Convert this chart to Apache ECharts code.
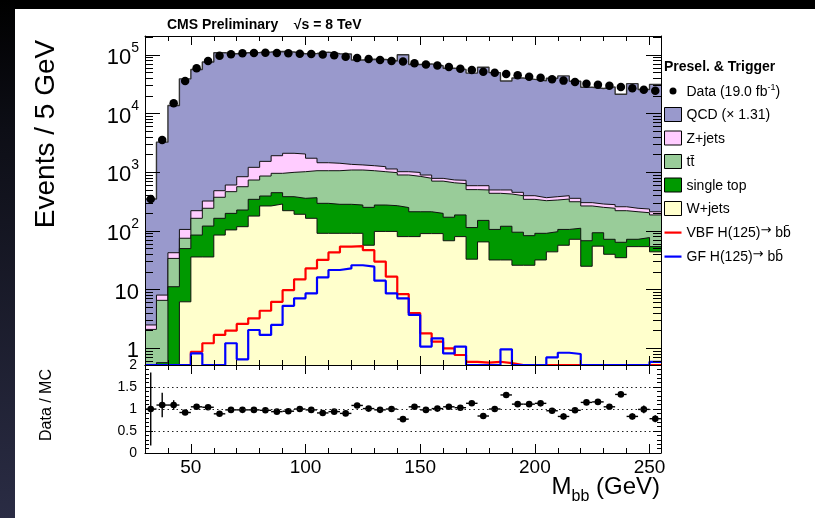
<!DOCTYPE html>
<html>
<head>
<meta charset="utf-8">
<script src="https://cdn.jsdelivr.net/npm/echarts@6/dist/echarts.min.js"></script>
<style>
  html, body { margin: 0; padding: 0; background: #fff; }
  #wrap { position: relative; width: 815px; height: 518px; overflow: hidden; background: #fff; }
  #topband { position: absolute; left: 0; top: 0; width: 815px; height: 9px; background: #000; }
  #sideband { position: absolute; left: 0; top: 0; width: 15px; height: 518px;
              background: linear-gradient(#000 0%, #0d0e16 25%, #2a2c44 100%); }
  #chart { position: absolute; left: 0; top: 0; width: 815px; height: 518px; }
</style>
</head>
<body>
<div id="wrap">
  <div id="topband"></div>
  <div id="sideband"></div>
  <div id="chart"></div>
</div>
<script>
// M_bb histogram, 5 GeV bins: lower bin edges
const lowEdge = [30,35,40,45,50,55,60,65,70,75,80,85,90,95,100,105,110,115,120,125,130,135,140,145,150,
                 155,160,165,170,175,180,185,190,195,200,205,210,215,220,225,230,235,240,245,250];
const BIN_WIDTH = 5;

// Observed events per bin
const dataEvents = [350,3540,14900,35800,58900,78400,96600,102000,106000,107000,108000,107000,106000,104000,103000,
                    101000,98000,93000,88100,84700,81500,78400,77000,71700,68500,65500,62000,58000,55100,51600,
                    49600,47100,44700,42400,40700,38200,36300,34400,32200,31000,29800,28300,26800,25400,24400];

// Background processes (events per bin)
const qcd = [348,3240,13630,38800,55900,75100,108000,103500,107300,108000,109800,111900,109500,102000,103400,
             109500,102800,102000,80200,82600,81900,77300,99000,67300,69000,64100,58300,55600,48200,60800,
             49100,35200,39800,37800,35700,39400,43300,35100,27700,26400,28100,21000,32000,25400,31100];
const zjets = [0.4,1.5,8.5,31,57,80,110,139,272,474,669,953,1105,1020,670,390,360,270,240,230,220,153,123,140,
               108,80,77,89,84,91,61,73,56,53,41,47,49,45,37,35,37,37,31,32,25];
const ttbar = [2.1,6.0,22.8,25,79,122,210,267,339,391,468,509,612,661,692,765,776,806,814,808,744,713,647,638,
               575,506,489,451,391,347,331,305,303,262,236,239,243,203,198,159,171,157,140,127,133];
const singleTop = [0,0.57,11.2,43.8,49,85,79,95,109,166,127,161,162,167,204,204,193,193,185,195,178,171,170,132,
                   122,109,103,107,81,86,74,88,69,57,59,53,49,39,43,38,32,29,18,23,10];
const wjets = [0,0,0,6.2,36,36,85,104,118,179,266,287,221,192,164,91,91,91,91,57,98,98,80,80,90,90,68,80,33,65,
               32,32,26,26,32,44,57,72,25,55,40,35,54,54,44];

// Higgs signal templates
const vbfHiggs = [0,0,0,0,0.875,1.22,1.69,2.0,2.6,3.24,4.37,6.2,9.8,15,23,32,43,54,55,47,30,16.6,8.4,4.0,1.8,1.3,
                  1.0,0.77,0.59,0.57,0.59,0.56,0,0,0,0,0,0,0,0,0,0,0,0,0];
const gfHiggs = [0,0,0,0,0.82,0,0,1.22,0.65,2.05,1.69,2.5,5.3,7.1,8.6,16.2,21.6,23,26,24.6,14.2,8.6,7.1,3.7,1.07,
                 1.48,0.82,1.07,0,0,0,0.96,0,0,0,0.70,0.84,0.80,0,0,0,0,0,0,0.59];

// Uncertainty on Data / MC
const ratioErr = [0.83,0.28,0.11,0.05,0.04,0.03,0.03,0.03,0.03,0.03,0.03,0.03,0.03,0.03,0.03,0.03,0.03,0.03,0.03,
                  0.03,0.03,0.03,0.04,0.03,0.03,0.03,0.03,0.03,0.03,0.05,0.04,0.05,0.04,0.04,0.04,0.06,0.07,0.04,
                  0.05,0.05,0.05,0.06,0.07,0.09,0.08];

// Axis tick values
const xMajorTicks = [50,100,150,200,250];
const yDecades = [0,1,2,3,4,5];
const ratioTicks = [0,0.5,1,1.5,2];

const FONT = '"Liberation Sans", Arial, Helvetica, sans-serif';
const X_MIN = 30, X_MAX = 255;
const LOG_MIN = -0.284, LOG_MAX = 5.32;

const COL = { qcd:'#9999cc', zjets:'#ffccff', ttbar:'#99cc99', stop:'#009900', wjets:'#ffffcc', vbf:'#ff0000', gf:'#0000ff' };

const lg = v => (v > 0 ? Math.max(Math.log10(v), LOG_MIN) : LOG_MIN);
const centers = lowEdge.map(e => e + BIN_WIDTH / 2);

function stepPoints(vals) {
  const pts = lowEdge.map((e, i) => [e, lg(vals[i])]);
  pts.push([lowEdge[lowEdge.length - 1] + BIN_WIDTH, lg(vals[vals.length - 1])]);
  return pts;
}

// cumulative stack, bottom to top
const layerOrder = [wjets, singleTop, ttbar, zjets, qcd];
const cumulative = [];
let running = lowEdge.map(() => 0);
layerOrder.forEach(arr => { running = running.map((v, i) => v + arr[i]); cumulative.push(running); });
const mcTotal = cumulative[cumulative.length - 1];
const ratio = dataEvents.map((d, i) => d / mcTotal[i]);

// minor tick positions on the log axis
const yMinorLog = [];
for (let d = -1; d <= 5; d++) {
  for (let k = 2; k <= 9; k++) {
    const v = Math.log10(k) + d;
    if (v > LOG_MIN && v < LOG_MAX) yMinorLog.push(v);
  }
}

function xAxisSet(grid, pos, withLabels) {
  const minor = {
    type: 'value', gridIndex: grid, position: pos, min: X_MIN, max: X_MAX, interval: 10, z: 50,
    axisLine: { show: true, onZero: false, lineStyle: { color: '#000', width: 1 } },
    axisTick: { show: true, inside: true, length: 5, lineStyle: { color: '#000', width: 1 } },
    axisLabel: { show: false }, splitLine: { show: false }
  };
  const major = {
    type: 'value', gridIndex: grid, position: pos, min: X_MIN, max: X_MAX, z: 50,
    axisLine: { show: false, onZero: false },
    axisTick: { show: true, inside: true, length: 9, customValues: xMajorTicks, lineStyle: { color: '#000', width: 1 } },
    axisLabel: withLabels
      ? { show: true, customValues: xMajorTicks, fontSize: 19, fontFamily: FONT, color: '#000', margin: 5 }
      : { show: false },
    splitLine: { show: false }
  };
  return [minor, major];
}

function yLogAxisSet(pos, withLabels) {
  const major = {
    type: 'value', gridIndex: 0, position: pos, min: LOG_MIN, max: LOG_MAX, z: 50,
    axisLine: { show: true, onZero: false, lineStyle: { color: '#000', width: 1 } },
    axisTick: { show: true, inside: true, length: 15, customValues: yDecades, lineStyle: { color: '#000', width: 1 } },
    axisLabel: withLabels ? {
      show: true, customValues: yDecades, margin: 6,
      formatter: v => {
        const n = Math.round(v);
        if (n === 0) return '{b|1}';
        if (n === 1) return '{b|10}';
        return '{b|10}{s|' + n + '}';
      },
      rich: {
        b: { fontSize: 22, fontFamily: FONT, color: '#000', verticalAlign: 'bottom', lineHeight: 28 },
        s: { fontSize: 14, fontFamily: FONT, color: '#000', verticalAlign: 'top' }
      }
    } : { show: false },
    splitLine: { show: false }
  };
  const minor = {
    type: 'value', gridIndex: 0, position: pos, min: LOG_MIN, max: LOG_MAX, z: 50,
    axisLine: { show: false, onZero: false },
    axisTick: { show: true, inside: true, length: 8, customValues: yMinorLog, lineStyle: { color: '#000', width: 1 } },
    axisLabel: { show: false }, splitLine: { show: false }
  };
  return [major, minor];
}

function yRatioAxis(pos, withLabels) {
  return {
    type: 'value', gridIndex: 1, position: pos, min: 0, max: 2, interval: 0.5, z: 50,
    axisLine: { show: true, onZero: false, lineStyle: { color: '#000', width: 1 } },
    axisTick: { show: true, inside: true, length: 8, lineStyle: { color: '#000', width: 1 } },
    minorTick: { show: true, splitNumber: 5, length: 4, lineStyle: { color: '#000', width: 1 } },
    axisLabel: withLabels
      ? { show: true, customValues: ratioTicks, fontSize: 14, fontFamily: FONT, color: '#000', margin: 8 }
      : { show: false },
    splitLine: withLabels
      ? { show: true, lineStyle: { color: '#222', width: 1, type: [1.5, 3] } }
      : { show: false }
  };
}

const xAxes = [
  ...xAxisSet(0, 'bottom', false),   // 0,1
  ...xAxisSet(0, 'top', false),      // 2,3
  ...xAxisSet(1, 'bottom', true),    // 4,5
  ...xAxisSet(1, 'top', false)       // 6,7
];
const yAxes = [
  ...yLogAxisSet('left', true),      // 0,1
  ...yLogAxisSet('right', false),    // 2,3
  yRatioAxis('left', true),          // 4
  yRatioAxis('right', false)         // 5
];

const stackNames = ['W+jets', 'single top', 'tt', 'Z+jets', 'QCD'];
const stackColors = [COL.wjets, COL.stop, COL.ttbar, COL.zjets, COL.qcd];

const series = [];
// draw from the tallest (total) down to the bottom layer so each lower layer sits on top
for (let k = cumulative.length - 1; k >= 0; k--) {
  series.push({
    type: 'line', name: stackNames[k], xAxisIndex: 0, yAxisIndex: 0,
    data: stepPoints(cumulative[k]), step: 'end', symbol: 'none', silent: true,
    lineStyle: { color: k === cumulative.length - 1 ? '#333' : '#111', width: k === cumulative.length - 1 ? 1.4 : 1 },
    itemStyle: { color: stackColors[k] },
    areaStyle: { color: stackColors[k], opacity: 1, origin: 'start' },
    z: 2 + (cumulative.length - 1 - k)
  });
}
series.push({
  type: 'line', name: 'VBF', xAxisIndex: 0, yAxisIndex: 0, data: stepPoints(vbfHiggs), step: 'end',
  symbol: 'none', silent: true, lineStyle: { color: COL.vbf, width: 2.2 }, itemStyle: { color: COL.vbf }, z: 9
});
series.push({
  type: 'line', name: 'GF', xAxisIndex: 0, yAxisIndex: 0, data: stepPoints(gfHiggs), step: 'end',
  symbol: 'none', silent: true, lineStyle: { color: COL.gf, width: 2.2 }, itemStyle: { color: COL.gf }, z: 10
});
series.push({
  type: 'scatter', name: 'Data', xAxisIndex: 0, yAxisIndex: 0,
  data: centers.map((c, i) => [c, lg(dataEvents[i])]),
  symbol: 'circle', symbolSize: 8.5, itemStyle: { color: '#000', opacity: 1 }, silent: true, z: 11
});
series.push({
  type: 'custom', name: 'ratio', xAxisIndex: 4, yAxisIndex: 4, clip: true, silent: true, z: 11,
  data: centers.map((c, i) => [c, ratio[i], ratioErr[i]]),
  renderItem: (params, api) => {
    const x = api.value(0), r = api.value(1), e = api.value(2);
    const c = api.coord([x, r]);
    const a = api.coord([x - BIN_WIDTH / 2, r]);
    const b = api.coord([x + BIN_WIDTH / 2, r]);
    const lo = api.coord([x, Math.max(r - e, 0)]);
    const hi = api.coord([x, Math.min(r + e, 2)]);
    const st = { stroke: '#000', lineWidth: 1.4 };
    return {
      type: 'group', children: [
        { type: 'line', shape: { x1: a[0], y1: a[1], x2: b[0], y2: b[1] }, style: st },
        { type: 'line', shape: { x1: c[0], y1: lo[1], x2: c[0], y2: hi[1] }, style: st },
        { type: 'circle', shape: { cx: c[0], cy: c[1], r: 3.3 }, style: { fill: '#000' } }
      ]
    };
  }
});

const legendText = {
  'Data': '{n|Data (19.0 fb}{s|-1}{n|)}',
  'QCD': '{n|QCD (\u00d7 1.31)}',
  'Z+jets': '{n|Z+jets}',
  'tt': '{n|tt\u0304}',
  'single top': '{n|single top}',
  'W+jets': '{n|W+jets}',
  'VBF': '{n|VBF H(125)}{a|\u2192}{n| bb\u0304}',
  'GF': '{n|GF H(125)}{a|\u2192}{n| bb\u0304}'
};
const boxStyle = c => ({ color: c, borderColor: '#000', borderWidth: 1, opacity: 1 });
// legend glyphs: a small dot and a short horizontal bar inside a 17x14 box
const DOT_ICON = 'path://M0,0L0,0M17,14L17,14M5,7A3.5,3.5,0,1,1,12,7A3.5,3.5,0,1,1,5,7Z';
const LINE_ICON = 'path://M0,0L0,0M17,14L17,14M0,6L17,6L17,8.2L0,8.2Z';

const option = {
  animation: false,
  backgroundColor: 'transparent',
  title: [
    { text: 'CMS Preliminary    \u221as = 8 TeV', left: 167, top: 18, padding: 0,
      textStyle: { fontFamily: FONT, fontSize: 14, fontWeight: 'bold', color: '#000' } },
    { text: 'Presel. & Trigger', left: 664, top: 60, padding: 0,
      textStyle: { fontFamily: FONT, fontSize: 14, fontWeight: 'bold', color: '#000' } }
  ],
  grid: [
    { left: 145, top: 36, width: 516, height: 329, show: true, backgroundColor: '#fff', borderWidth: 0 },
    { left: 145, top: 365, width: 516, height: 88, show: true, backgroundColor: '#fff', borderWidth: 0 }
  ],
  xAxis: xAxes,
  yAxis: yAxes,
  legend: {
    left: 664, top: 83, orient: 'vertical', itemWidth: 17, itemHeight: 14, itemGap: 8,
    selectedMode: false, padding: 0,
    formatter: name => legendText[name],
    textStyle: {
      fontFamily: FONT, fontSize: 14, color: '#000',
      rich: {
        n: { fontFamily: FONT, fontSize: 14, color: '#000', lineHeight: 16, verticalAlign: 'bottom' },
        a: { fontFamily: '"DejaVu Sans", sans-serif', fontSize: 13, color: '#000', lineHeight: 14, verticalAlign: 'top' },
        s: { fontFamily: FONT, fontSize: 9, color: '#000', verticalAlign: 'top' }
      }
    },
    data: [
      { name: 'Data', icon: DOT_ICON, itemStyle: { color: '#000', borderWidth: 0, opacity: 1 } },
      { name: 'QCD', icon: 'rect', itemStyle: boxStyle(COL.qcd) },
      { name: 'Z+jets', icon: 'rect', itemStyle: boxStyle(COL.zjets) },
      { name: 'tt', icon: 'rect', itemStyle: boxStyle(COL.ttbar) },
      { name: 'single top', icon: 'rect', itemStyle: boxStyle(COL.stop) },
      { name: 'W+jets', icon: 'rect', itemStyle: boxStyle(COL.wjets) },
      { name: 'VBF', icon: LINE_ICON, itemStyle: { color: COL.vbf, borderWidth: 0, opacity: 1 } },
      { name: 'GF', icon: LINE_ICON, itemStyle: { color: COL.gf, borderWidth: 0, opacity: 1 } }
    ]
  },
  graphic: [
    { type: 'text', x: 46, y: 134, rotation: Math.PI / 2, z: 100,
      style: { text: 'Events / 5 GeV', fontFamily: FONT, fontSize: 28, fill: '#000', align: 'center', verticalAlign: 'middle' } },
    { type: 'text', x: 47, y: 405, rotation: Math.PI / 2, z: 100,
      style: { text: 'Data / MC', fontFamily: FONT, fontSize: 16, fill: '#000', align: 'center', verticalAlign: 'middle' } },
    { type: 'text', x: 660, y: 490, z: 100,
      style: {
        text: '{m|M}{sub|bb}{m| (GeV)}', align: 'right', verticalAlign: 'middle',
        rich: {
          m: { fontFamily: FONT, fontSize: 24, fill: '#000', color: '#000', lineHeight: 30, verticalAlign: 'top' },
          sub: { fontFamily: FONT, fontSize: 16, fill: '#000', color: '#000', verticalAlign: 'bottom' }
        }
      } }
  ],
  series: series
};

const chart = echarts.init(document.getElementById('chart'), null, { renderer: 'canvas' });
chart.setOption(option);
</script>
</body>
</html>
